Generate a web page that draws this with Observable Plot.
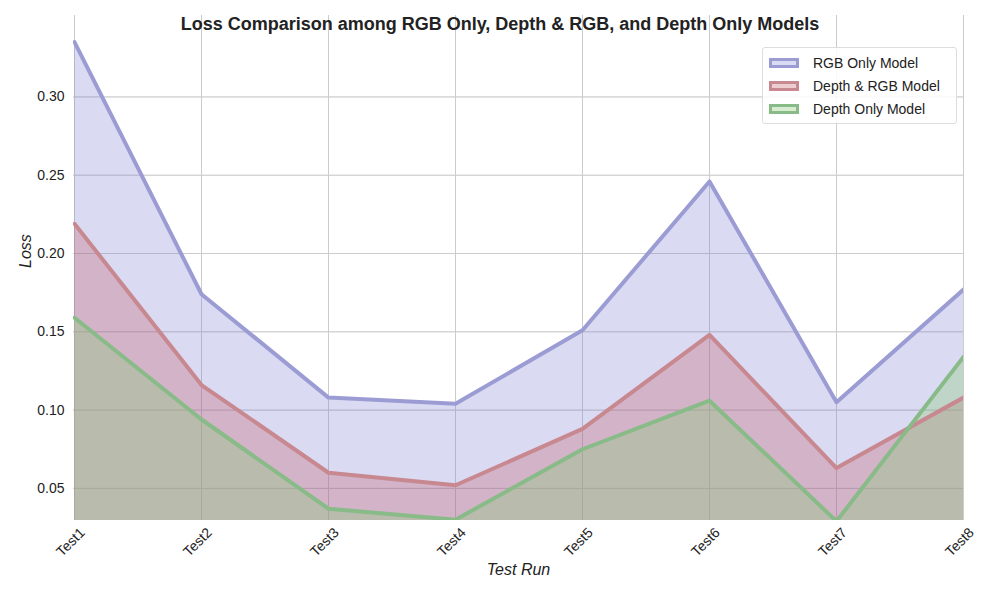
<!DOCTYPE html>
<html><head><meta charset="utf-8">
<script src="https://cdn.jsdelivr.net/npm/d3@7"></script>
<script src="https://cdn.jsdelivr.net/npm/@observablehq/plot@0.6"></script>
<style>
body{margin:0;background:#fff;font-family:"Liberation Sans",Arial,sans-serif;}
#wrap{position:relative;width:1000px;height:600px;}
#title{position:absolute;top:14px;left:0;width:1000px;text-align:center;font-weight:bold;font-size:18px;color:#222;}
#legend{position:absolute;top:47px;left:762px;width:193px;background:rgba(255,255,255,0.85);border:1px solid #ddd;border-radius:3px;padding:3px 0;font-size:14px;color:#222;}
.li{display:flex;align-items:center;height:23px;padding-left:6px;}
.sw{width:30px;height:10px;margin-right:14px;border:3px solid;box-sizing:border-box;}
</style></head><body>
<div id="wrap">
<div id="chart"></div>
<div id="title">Loss Comparison among RGB Only, Depth &amp; RGB, and Depth Only Models</div>
<div id="legend"></div>
</div>
<script>
const tests = ["Test1","Test2","Test3","Test4","Test5","Test6","Test7","Test8"];
const rgbOnly = [0.335,0.174,0.108,0.104,0.151,0.246,0.105,0.177];
const depthRgb = [0.219,0.116,0.060,0.052,0.088,0.148,0.063,0.108];
const depthOnly = [0.159,0.094,0.037,0.030,0.075,0.106,0.029,0.134];
const seriesNames = ["RGB Only Model","Depth & RGB Model","Depth Only Model"];
const fills = ["#7b7bd0","#c05868","#8ccc7c"];
const fillOps = [0.28,0.3,0.35];
const strokes = ["#9c9cd4","#c88890","#88bb88"];
const all = [rgbOnly,depthRgb,depthOnly];
const data = all.map((vals,i)=>vals.map((v,j)=>({test:tests[j],v,s:seriesNames[i]})));
const marks = [];
all.forEach((_,i)=>{
  marks.push(Plot.areaY(data[i],{x:"test",y1:0,y2:"v",fill:fills[i],fillOpacity:fillOps[i],clip:true}));
});
all.forEach((_,i)=>{
  marks.push(Plot.lineY(data[i],{x:"test",y:"v",stroke:strokes[i],strokeWidth:4,clip:true}));
});
const chart = Plot.plot({
  width:1000,height:600,marginLeft:73,marginRight:37,marginTop:15,marginBottom:80,
  style:{fontSize:"14px",fontFamily:"Liberation Sans, Arial, sans-serif",color:"#222"},
  x:{type:"point",domain:tests,padding:0,label:null,tickSize:0,grid:true},
  y:{domain:[0.0295,0.352],ticks:[0.05,0.10,0.15,0.20,0.25,0.30],tickFormat:d3.format(".2f"),label:null,tickSize:0,grid:true},
  marks:[
    Plot.gridX(tests,{stroke:"#ccc",strokeOpacity:1}),
    Plot.gridY([0.05,0.10,0.15,0.20,0.25,0.30],{stroke:"#ccc",strokeOpacity:1}),
    ...marks,
    Plot.axisX({tickRotate:-45,tickSize:0,label:null,fontSize:14,dy:-2,dx:8,textAnchor:"end"}),
    Plot.text(["Test Run"],{frameAnchor:"bottom",dy:54,fontStyle:"italic",fontSize:16}),
    Plot.text(["Loss"],{frameAnchor:"left",dx:-48,rotate:-90,fontStyle:"italic",fontSize:16})
  ]
});
document.getElementById("chart").appendChild(chart);
document.getElementById("legend").innerHTML = seriesNames.map((n,i)=>
 `<div class="li"><div class="sw" style="border-color:${strokes[i]};background:${d3.color(fills[i]).copy({opacity:fillOps[i]})}"></div>${n.replace("&","&amp;")}</div>`).join("");
</script>
</body></html>
